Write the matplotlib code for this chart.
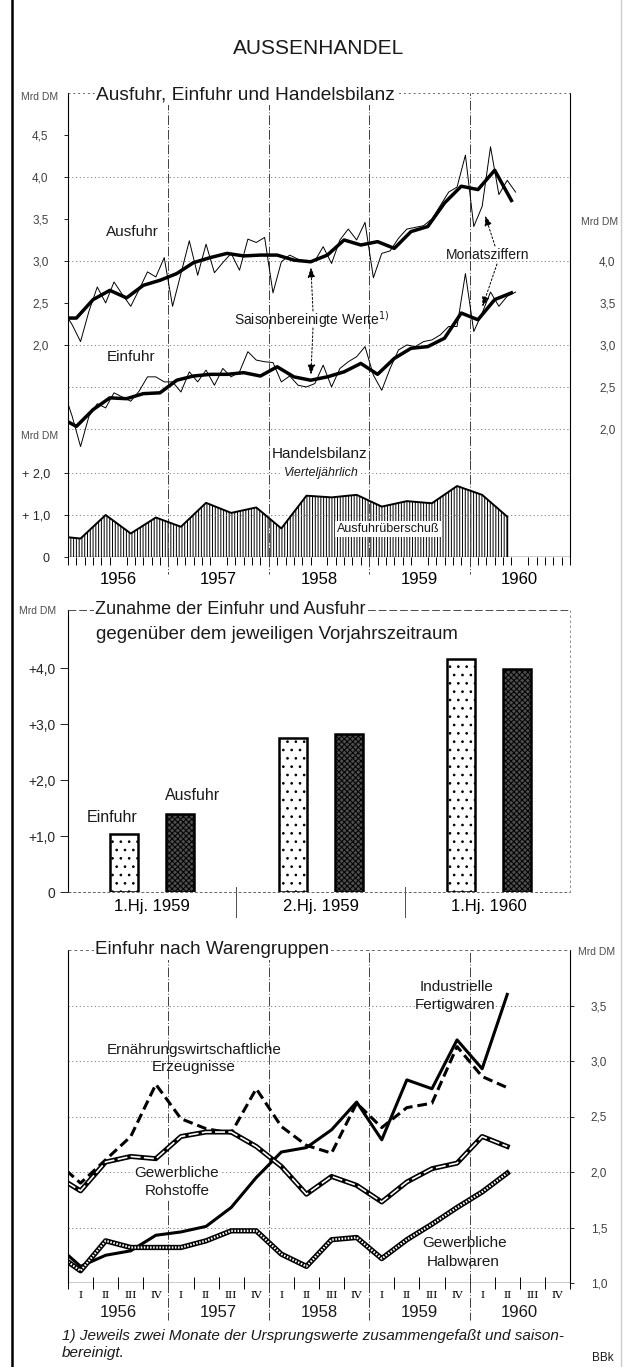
import numpy as np
import matplotlib.pyplot as plt
from matplotlib.lines import Line2D

plt.rcParams['font.family'] = ['Liberation Sans', 'DejaVu Sans']
plt.rcParams['hatch.linewidth'] = 0.7

W, H = 625, 1367

# ---- Daten ------------------------------------------------------------
jahre = [1956, 1957, 1958, 1959, 1960]

# Monatsziffern Dez 1955 - Jun 1960, Mrd DM
ausfuhr_monat = [2.40,
                 2.24, 2.04, 2.40, 2.69, 2.50, 2.75, 2.60, 2.46, 2.66, 2.87, 2.81, 3.04,
                 2.46, 2.85, 3.24, 2.83, 3.20, 2.86, 2.98, 3.09, 2.89, 3.26, 3.22, 3.28,
                 2.62, 2.99, 3.07, 3.02, 2.99, 3.00, 3.17, 2.97, 3.25, 3.38, 3.25, 3.46,
                 2.80, 3.09, 3.12, 3.27, 3.38, 3.40, 3.42, 3.50, 3.66, 3.82, 3.88, 4.26,
                 3.41, 3.65, 4.36, 3.79, 3.96, 3.82]
einfuhr_monat = [2.45,
                 2.15, 1.79, 2.15, 2.30, 2.25, 2.43, 2.38, 2.33, 2.45, 2.62, 2.62, 2.56,
                 2.56, 2.44, 2.68, 2.56, 2.70, 2.52, 2.72, 2.62, 2.68, 2.92, 2.82, 2.80,
                 2.79, 2.56, 2.63, 2.52, 2.50, 2.54, 2.76, 2.50, 2.72, 2.80, 2.86, 2.98,
                 2.64, 2.46, 2.72, 2.94, 3.00, 2.98, 3.04, 3.06, 3.12, 3.22, 3.22, 3.85,
                 3.16, 3.38, 3.63, 3.46, 3.58, 3.63]

# saisonbereinigte Zweimonatswerte Nov/Dez 1955 - Mai/Jun 1960
ausfuhr_saison = [2.32, 2.32, 2.54, 2.65, 2.56, 2.71, 2.77, 2.85, 2.98, 3.04, 3.09,
                  3.06, 3.07, 3.07, 3.01, 2.99, 3.07, 3.25, 3.19, 3.23, 3.15, 3.35,
                  3.41, 3.69, 3.89, 3.85, 4.08, 3.72]
einfuhr_saison = [2.14, 2.03, 2.23, 2.37, 2.36, 2.42, 2.43, 2.58, 2.63, 2.65, 2.65,
                  2.67, 2.63, 2.74, 2.62, 2.58, 2.62, 2.68, 2.78, 2.65, 2.84, 2.96,
                  2.98, 3.08, 3.38, 3.30, 3.54, 3.62]

# Handelsbilanz vierteljaehrlich, IV/1955 - II/1960
handelsbilanz = [0.50, 0.44, 1.00, 0.56, 0.94, 0.72, 1.29, 1.05, 1.18, 0.68, 1.46,
                 1.42, 1.48, 1.20, 1.33, 1.28, 1.69, 1.48, 0.96]

# Zunahme gegenueber Vorjahrszeitraum
perioden = ['1.Hj. 1959', '2.Hj. 1959', '1.Hj. 1960']
zunahme_einfuhr = [1.03, 2.76, 4.16]
zunahme_ausfuhr = [1.39, 2.82, 3.98]

# Einfuhr nach Warengruppen, IV/1955 - II/1960
industrielle = [1.35, 1.15, 1.25, 1.29, 1.43, 1.46, 1.51, 1.68, 1.95, 2.18, 2.22,
                2.38, 2.63, 2.29, 2.83, 2.75, 3.19, 2.93, 3.60]
ernaehrung = [2.10, 1.90, 2.11, 2.32, 2.79, 2.48, 2.39, 2.35, 2.75, 2.41, 2.24,
              2.17, 2.62, 2.40, 2.58, 2.62, 3.13, 2.86, 2.76]
rohstoffe = [1.97, 1.83, 2.09, 2.14, 2.12, 2.32, 2.36, 2.36, 2.23, 2.05, 1.80,
             1.96, 1.88, 1.73, 1.91, 2.03, 2.08, 2.32, 2.23]
halbwaren = [1.27, 1.11, 1.38, 1.32, 1.32, 1.32, 1.38, 1.47, 1.47, 1.26, 1.15,
             1.39, 1.41, 1.22, 1.39, 1.53, 1.68, 1.82, 1.99]
quartale = ['I', 'II', 'III', 'IV']

monat_x = 1956 + (np.arange(-1, 54) + 0.5) / 12
bimonat_x = 1956 + (2 * np.arange(-1, 27) + 1) / 12
quartal_x = 1956 + (np.arange(-1, 18) + 0.5) / 4

# Einfuhr steht auf der rechten Skala, um 1 Mrd DM versetzt
EIN_OFFSET = 1.0


def komma(v, plus=False):
    s = f'{v:.1f}'.replace('.', ',')
    return ('+' + s) if plus and v > 0 else s


fig = plt.figure(figsize=(W / 100, H / 100), dpi=100)


def px_ax(x0, y0, x1, y1):
    ax = fig.add_axes([x0 / W, 1 - y1 / H, (x1 - x0) / W, (y1 - y0) / H])
    ax.patch.set_visible(False)
    for sp in ax.spines.values():
        sp.set_visible(False)
    return ax


def ftext(x, y, s, **kw):
    kw.setdefault('ha', 'center')
    kw.setdefault('va', 'center')
    kw.setdefault('color', '0.1')
    return fig.text(x / W, 1 - y / H, s, **kw)


def fline(xs, ys, **kw):
    kw.setdefault('color', 'black')
    kw.setdefault('lw', 0.8)
    fig.add_artist(Line2D([x / W for x in xs], [1 - y / H for y in ys], **kw))


def fpx(x, y):
    return x / W, 1 - y / H


white = dict(facecolor='white', edgecolor='none', pad=1.0)
grid_kw = dict(color='0.45', lw=0.6, ls=(0, (1.5, 3)))
sep_kw = dict(color='0.25', lw=0.7, ls=(0, (10, 2, 1, 2)))

# Rahmen der Seite
fline([12, 12], [0, H], lw=1.8)
fline([621, 621], [0, H], color='0.8', lw=1.0)
ftext(319, 48, 'AUSSENHANDEL', fontsize=15)

# ---- Panel 1: Ausfuhr, Einfuhr, Handelsbilanz -------------------------
ax_top = px_ax(68, 93, 570, 460)
ax_hb = px_ax(68, 460, 570, 557)
for ax in (ax_top, ax_hb):
    ax.set_xlim(1956, 1961)
ax_top.set_ylim(0.63, 5.0)
ax_hb.set_ylim(0, 2.31)

for g in [4.0, 3.0, 2.0, 1.5, 1.0]:
    ax_top.axhline(g, **grid_kw)
for g in [1.0, 2.0]:
    ax_hb.axhline(g, **grid_kw)
for yr in jahre[1:]:
    ax_top.axvline(yr, **sep_kw)
    ax_hb.axvline(yr, **sep_kw)
    ax_hb.plot([yr, yr], [0, -0.4], clip_on=False, **sep_kw)

ein_m = np.array(einfuhr_monat) - EIN_OFFSET
ein_s = np.array(einfuhr_saison) - EIN_OFFSET
ax_top.plot(monat_x, ausfuhr_monat, color='black', lw=0.7)
ax_top.plot(monat_x, ein_m, color='black', lw=0.7)
ax_top.plot(bimonat_x, ausfuhr_saison, color='black', lw=2.5, solid_joinstyle='round')
ax_top.plot(bimonat_x, ein_s, color='black', lw=2.5, solid_joinstyle='round')

ax_top.set_xticks([])
ax_top.set_yticks([2.0, 2.5, 3.0, 3.5, 4.0, 4.5])
ax_top.set_yticklabels([komma(v) for v in ax_top.get_yticks()])
ax_top.tick_params(axis='y', length=3, width=0.6, pad=11, labelsize=8.5,
                   labelcolor='0.25')

ax_r = ax_top.twinx()
for sp in ax_r.spines.values():
    sp.set_visible(False)
lo, hi = ax_top.get_ylim()
ax_r.set_ylim(lo + EIN_OFFSET, hi + EIN_OFFSET)
ax_r.set_yticks([2.0, 2.5, 3.0, 3.5, 4.0])
ax_r.set_yticklabels([komma(v) for v in ax_r.get_yticks()])
ax_r.tick_params(axis='y', length=0, pad=21, labelsize=8.5, labelcolor='0.25')

# Handelsbilanz-Flaeche
ax_hb.fill_between(quartal_x, handelsbilanz, 0, facecolor='white',
                   edgecolor='black', hatch='||||||', lw=0)
ax_hb.plot(quartal_x, handelsbilanz, color='black', lw=1.4)
ax_hb.plot([quartal_x[-1]] * 2, [0, handelsbilanz[-1]], color='black', lw=1.0)
ax_hb.axhline(0, color='black', lw=1.0)
ax_hb.set_yticks([0, 1, 2])
ax_hb.set_yticklabels(['0', '+ 1,0', '+ 2,0'])
ax_hb.tick_params(axis='y', length=3, width=0.6, pad=10, labelsize=9,
                  labelcolor='0.15')
ax_hb.set_xticks([yr + 0.5 for yr in jahre])
ax_hb.set_xticklabels([str(yr) for yr in jahre], fontsize=12)
ax_hb.set_xticks(1956 + np.arange(61) / 12, minor=True)
ax_hb.tick_params(axis='x', which='major', length=0, pad=11)
ax_hb.tick_params(axis='x', which='minor', length=6, width=0.7, direction='out')

fline([68, 68], [93, 557])
fline([570, 570], [93, 557])
fline([68, 570], [93, 93], color='0.4', lw=0.7, ls=(0, (2, 3)))
ftext(96, 95, 'Ausfuhr, Einfuhr und Handelsbilanz', ha='left', fontsize=13.8,
      bbox=white)
ftext(40, 97, 'Mrd DM', fontsize=7.5, color='0.3')
ftext(600, 222, 'Mrd DM', fontsize=7.5, color='0.3')
ftext(40, 436, 'Mrd DM', fontsize=7.5, color='0.3')

ftext(132, 232, 'Ausfuhr', fontsize=11)
ftext(131, 357, 'Einfuhr', fontsize=11)
ftext(312, 320, r'Saisonbereinigte Werte$^{\mathit{1)}}$', fontsize=10)
ftext(488, 255, 'Monatsziffern', fontsize=10)
ftext(320, 454, 'Handelsbilanz', fontsize=11)
ftext(321, 473, 'Vierteljährlich', fontsize=9, style='italic', bbox=white)
ftext(388, 529, 'Ausfuhrüberschuß', fontsize=9, bbox=dict(facecolor='white',
      edgecolor='none', pad=1.5))

arrow_kw = dict(arrowstyle='-|>,head_length=0.6,head_width=0.22', color='black',
                lw=0.7, linestyle=(0, (2, 2)), shrinkA=0)
ax_top.annotate('', xy=(bimonat_x[15], ausfuhr_saison[15]), xycoords='data',
                xytext=fpx(313, 311), textcoords='figure fraction',
                arrowprops=dict(arrow_kw, shrinkB=4))
ax_top.annotate('', xy=(bimonat_x[15], ein_s[15]), xycoords='data',
                xytext=fpx(313, 328), textcoords='figure fraction',
                arrowprops=dict(arrow_kw, shrinkB=4))
ax_top.annotate('', xy=(monat_x[50], ausfuhr_monat[50]), xycoords='data',
                xytext=fpx(495, 246), textcoords='figure fraction',
                arrowprops=dict(arrow_kw, shrinkB=7))
ax_top.annotate('', xy=(bimonat_x[25], ein_s[25]), xycoords='data',
                xytext=fpx(497, 264), textcoords='figure fraction',
                arrowprops=dict(arrow_kw, shrinkB=10))

# ---- Panel 2: Zunahme der Einfuhr und Ausfuhr -------------------------
ax_bar = px_ax(68, 610, 570, 892)
ax_bar.set_xlim(-0.497, 2.479)
ax_bar.set_ylim(0, 5.04)
idx = np.arange(len(perioden))
bw = 0.166
ax_bar.bar(idx - bw, zunahme_einfuhr, bw, facecolor='white', edgecolor='black',
           hatch='..', lw=1.8)
ax_bar.bar(idx + bw, zunahme_ausfuhr, bw, facecolor='0.3', edgecolor='black',
           hatch='xxxxxx', lw=1.8)
ax_bar.set_yticks([0, 1, 2, 3, 4])
ax_bar.set_yticklabels(['0'] + [komma(v, plus=True) for v in [1, 2, 3, 4]])
ax_bar.tick_params(axis='y', length=6, width=0.6, pad=3, labelsize=10,
                   labelcolor='0.15')
ax_bar.set_xticks(idx)
ax_bar.set_xticklabels(perioden, fontsize=12)
ax_bar.tick_params(axis='x', length=0, pad=5)
for s in [0.5, 1.5]:
    ax_bar.plot([s, s], [0.09, -0.45], color='0.3', lw=0.7, clip_on=False)

fline([68, 68], [610, 892])
fline([570, 570], [610, 892], color='0.5', lw=0.6, ls=(0, (3, 3)))
fline([68, 570], [892, 892], color='0.4', lw=0.7, ls=(0, (3, 2)))
fline([68, 570], [610, 610], color='0.3', lw=0.7, ls=(0, (8, 3)))
ftext(95, 610, 'Zunahme der Einfuhr und Ausfuhr', ha='left', fontsize=13,
      bbox=white)
ftext(96, 635, 'gegenüber dem jeweiligen Vorjahrszeitraum', ha='left',
      fontsize=13.4)
ftext(38, 611, 'Mrd DM', fontsize=7.5, color='0.3')
ftext(112, 817, 'Einfuhr', fontsize=11.5)
ftext(193, 795, 'Ausfuhr', fontsize=11.5)

# ---- Panel 3: Einfuhr nach Warengruppen -------------------------------
ax_bot = px_ax(68, 950, 570, 1283)
ax_bot.set_xlim(1956, 1961)
ax_bot.set_ylim(1.0, 4.0)
for g in [1.5, 2.0, 2.5, 3.0, 3.5]:
    ax_bot.axhline(g, **grid_kw)
for yr in jahre[1:]:
    ax_bot.axvline(yr, **sep_kw)
    ax_bot.plot([yr, yr], [0, -0.11], transform=ax_bot.get_xaxis_transform(),
                clip_on=False, **sep_kw)

ax_bot.plot(quartal_x, industrielle, color='black', lw=2.2)
ax_bot.plot(quartal_x, ernaehrung, color='black', lw=2.2, ls=(0, (3.2, 1.6)))
ax_bot.plot(quartal_x, rohstoffe, color='black', lw=3.6)
ax_bot.plot(quartal_x, rohstoffe, color='white', lw=1.2, ls=(0, (6, 2)))
ax_bot.plot(quartal_x, halbwaren, color='black', lw=3.8)
ax_bot.plot(quartal_x, halbwaren, color='white', lw=1.6, ls=(0, (0.7, 0.7)))
ax_bot.axhline(1.0, color='black', lw=1.0)

ax_bot.yaxis.tick_right()
ax_bot.set_yticks([1.0, 1.5, 2.0, 2.5, 3.0, 3.5])
ax_bot.set_yticklabels([komma(v) for v in ax_bot.get_yticks()])
ax_bot.tick_params(axis='y', length=3, width=0.6, pad=12, labelsize=8.5,
                   labelcolor='0.25')
q_mid = 1956 + (np.arange(20) + 0.5) / 4
ax_bot.set_xticks(q_mid)
ax_bot.set_xticklabels(quartale * len(jahre), fontsize=7.5, family='DejaVu Serif')
ax_bot.set_xticks(1956 + np.arange(21) / 4, minor=True)
ax_bot.tick_params(axis='x', which='major', length=0, pad=6)
ax_bot.tick_params(axis='x', which='minor', length=8, width=0.7,
                   direction='inout')
for yr in jahre:
    ax_bot.text(yr + 0.5, -0.088, str(yr), transform=ax_bot.get_xaxis_transform(),
                ha='center', va='center', fontsize=12, color='0.1')

fline([68, 68], [950, 1283])
fline([570, 570], [950, 1283])
fline([68, 570], [950, 950], color='0.4', lw=0.7, ls=(0, (3, 3)))
ftext(95, 950, 'Einfuhr nach Warengruppen', ha='left', fontsize=13.5, bbox=white)
ftext(597, 952, 'Mrd DM', fontsize=7.5, color='0.3')

ftext(194, 1050, 'Ernährungswirtschaftliche', fontsize=11)
ftext(194, 1067, 'Erzeugnisse', fontsize=11)
ftext(177, 1173, 'Gewerbliche', fontsize=11, bbox=white)
ftext(177, 1191, 'Rohstoffe', fontsize=11, bbox=white)
ftext(457, 987, 'Industrielle', fontsize=11)
ftext(455, 1005, 'Fertigwaren', fontsize=11)
ftext(465, 1243, 'Gewerbliche', fontsize=11)
ftext(463, 1262, 'Halbwaren', fontsize=11)

ftext(62, 1336, '1) Jeweils zwei Monate der Ursprungswerte zusammengefaßt und '
      'saison-', ha='left', fontsize=11, style='italic')
ftext(62, 1353, 'bereinigt.', ha='left', fontsize=11, style='italic')
ftext(603, 1358, 'BBk', fontsize=8.5)

fig.savefig('out.png', dpi=100)
